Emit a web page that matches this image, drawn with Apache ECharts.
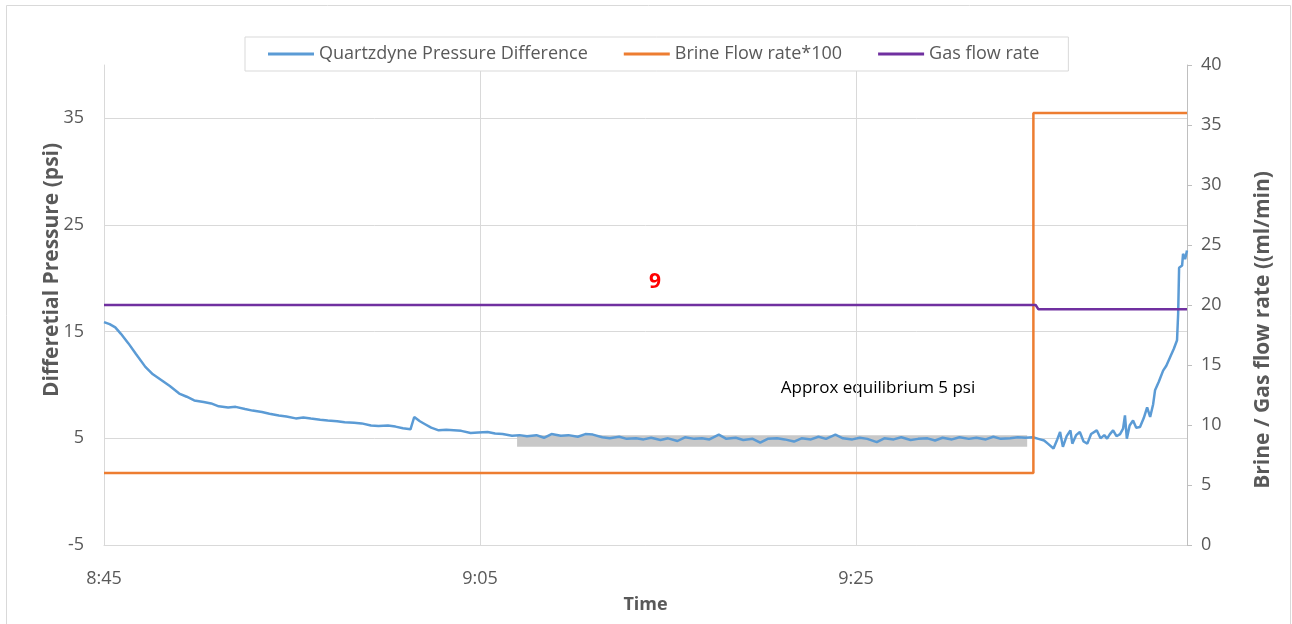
<!DOCTYPE html>
<html><head><meta charset="utf-8">
<script src="https://cdn.jsdelivr.net/npm/echarts@6/dist/echarts.min.js"></script>
<style>html,body{margin:0;padding:0;background:#fff}#c{width:1292px;height:624px}</style>
</head><body><div id="c"></div>
<script>
// minutes after 8:45
const timeTicks = ['8:45', '9:05', '9:25'];
const pressureTime = [0,0.3,0.6,0.9,1.3,1.7,2.2,2.6,3.1,3.5,4.0,4.4,4.8,5.3,5.7,6.1,6.6,7.0,7.5,7.9,8.4,8.8,9.3,9.7,10.2,10.6,11.0,11.5,11.9,12.4,12.8,13.3,13.7,14.2,14.6,15.1,15.5,15.9,16.3,16.5,16.8,17.1,17.4,17.8,18.2,18.6,19.0,19.5,19.9,20.4,20.8,21.2,21.7,22.1,22.5,23.0,23.4,23.8,24.3,24.7,25.2,25.6,26.0,26.5,26.9,27.4,27.8,28.3,28.7,29.1,29.6,30.0,30.5,30.9,31.4,31.8,32.2,32.7,33.1,33.6,34.0,34.5,34.9,35.3,35.8,36.2,36.7,37.1,37.6,38.0,38.4,38.9,39.3,39.8,40.2,40.6,41.1,41.5,42.0,42.4,42.9,43.3,43.8,44.2,44.6,45.1,45.5,46.0,46.4,46.9,47.3,47.7,48.2,48.6,49.0,49.4,49.7,50.0,50.2,50.5,50.7,50.85,51.0,51.2,51.4,51.5,51.7,51.9,52.1,52.3,52.5,52.8,53.0,53.2,53.35,53.5,53.67,53.85,54.04,54.2,54.3,54.4,54.55,54.73,54.9,55.1,55.3,55.48,55.64,55.8,55.9,56.1,56.33,56.5,56.7,56.9,57.07,57.13,57.18,57.34,57.39,57.5,57.6];
const pressureValues = [15.9,15.7,15.4,14.8,13.9,12.9,11.7,11.0,10.4,9.9,9.2,8.9,8.55,8.4,8.27,8.0,7.9,7.95,7.75,7.6,7.46,7.3,7.15,7.05,6.87,6.95,6.85,6.75,6.68,6.6,6.5,6.45,6.4,6.2,6.15,6.2,6.1,5.95,5.85,7.0,6.6,6.3,6.0,5.75,5.8,5.75,5.7,5.5,5.55,5.6,5.45,5.4,5.25,5.3,5.2,5.3,5.05,5.4,5.25,5.3,5.15,5.4,5.35,5.1,5.0,5.15,4.95,5.0,4.9,5.05,4.85,5.0,4.75,5.1,4.95,5.0,4.9,5.35,4.95,5.05,4.85,4.95,4.6,4.95,5.0,4.9,4.7,5.0,4.9,5.15,4.95,5.35,5.0,4.9,5.05,4.95,4.65,5.0,4.9,5.1,4.85,4.95,5.0,4.8,5.05,4.9,5.1,4.95,5.05,4.9,5.15,4.95,5.0,5.1,5.05,5.1,4.95,4.8,4.5,4.05,4.9,5.6,4.2,5.2,5.75,4.5,5.3,5.6,4.7,4.5,5.4,5.75,5.0,5.3,4.97,5.4,5.75,5.2,5.4,5.9,7.15,4.97,6.2,6.68,6.0,6.06,6.9,7.9,7.0,8.2,9.5,10.3,11.35,11.8,12.6,13.4,14.2,16.7,21.0,21.2,22.3,21.8,22.6];
const brineTime = [0, 49.43, 49.43, 57.6];
const brineValues = [6, 6, 36, 36];
const gasTime = [0, 49.55, 49.7, 57.6];
const gasValues = [20, 20, 19.64, 19.64];
const bandTime = [21.97, 49.1];
const bandRange = [4.2, 5.28];
const seriesNames = ['Quartzdyne Pressure Difference', 'Brine Flow rate*100', 'Gas flow rate'];

const FONT = '"Open Sans", "Noto Sans", sans-serif';
const GRID = '#d9d9d9';
const TXT = '#595959';
const pair = (t, v) => t.map((x, i) => [x, v[i]]);

const chart = echarts.init(document.getElementById('c'));
chart.setOption({
  animation: false,
  backgroundColor: '#fff',
  textStyle: { fontFamily: FONT },
  grid: { left: 104, right: 105, top: 65, bottom: 79, containLabel: false },
  legend: {
    left: 245, top: 37, padding: [8, 29, 8, 23], itemGap: 36,
    itemWidth: 46, itemHeight: 3, icon: 'rect',
    backgroundColor: '#fff', borderColor: GRID, borderWidth: 1,
    textStyle: { fontFamily: FONT, fontSize: 18, color: TXT },
    data: seriesNames
  },
  xAxis: {
    type: 'value', min: 0, max: 57.6, interval: 20,
    axisLine: { show: true, onZero: false, lineStyle: { color: GRID, width: 1 } },
    axisTick: { show: false },
    splitLine: { show: true, lineStyle: { color: GRID, width: 1 } },
    axisLabel: { formatter: v => timeTicks[Math.round(v / 20)] || '', showMaxLabel: false,
      margin: 25, fontSize: 18, color: TXT, fontFamily: FONT },
    name: 'Time', nameLocation: 'middle', nameGap: 51,
    nameTextStyle: { fontSize: 18, fontWeight: 'bold', color: TXT, fontFamily: FONT }
  },
  yAxis: [{
    type: 'value', position: 'left', min: -5, max: 40, interval: 10,
    axisLine: { show: true, lineStyle: { color: GRID, width: 1 } },
    axisTick: { show: false },
    splitLine: { show: true, showMaxLine: false, lineStyle: { color: GRID, width: 1 } },
    axisLabel: { showMaxLabel: false, margin: 20, fontSize: 18, color: TXT, fontFamily: FONT },
    name: 'Differetial Pressure (psi)', nameLocation: 'middle', nameGap: 41, nameMoveOverlap: false,
    nameTextStyle: { fontSize: 21, fontWeight: 'bold', color: TXT, fontFamily: FONT, padding: [0, 0, 0, 70] }
  }, {
    type: 'value', position: 'right', min: 0, max: 40, interval: 5,
    axisLine: { show: true, lineStyle: { color: '#bfbfbf', width: 1 } },
    axisTick: { show: true, length: 5, lineStyle: { color: '#bfbfbf' } },
    splitLine: { show: false },
    axisLabel: { margin: 14, fontSize: 18, color: TXT, fontFamily: FONT },
    name: 'Brine / Gas flow rate ((ml/min)', nameLocation: 'middle', nameGap: 66,
    nameTextStyle: { fontSize: 21, fontWeight: 'bold', color: TXT, fontFamily: FONT, padding: [0, 50, 0, 0] }
  }],
  series: [{
    name: seriesNames[0], type: 'line', yAxisIndex: 0, symbol: 'none', showSymbol: false,
    data: pair(pressureTime, pressureValues),
    lineStyle: { color: '#5b9bd5', width: 2.5 }, itemStyle: { color: '#5b9bd5' },
    z: 3,
    markArea: {
      silent: true, z: 1,
      itemStyle: { color: '#c8c8c8', opacity: 1 },
      data: [[{ xAxis: bandTime[0], yAxis: bandRange[1] }, { xAxis: bandTime[1], yAxis: bandRange[0] }]]
    }
  }, {
    name: seriesNames[1], type: 'line', yAxisIndex: 1, symbol: 'none', showSymbol: false,
    data: pair(brineTime, brineValues),
    lineStyle: { color: '#ed7d31', width: 2.5 }, itemStyle: { color: '#ed7d31' }, z: 4
  }, {
    name: seriesNames[2], type: 'line', yAxisIndex: 1, symbol: 'none', showSymbol: false,
    data: pair(gasTime, gasValues),
    lineStyle: { color: '#7030a0', width: 2.5 }, itemStyle: { color: '#7030a0' }, z: 5
  }],
  graphic: [
    { type: 'rect', z: -10, silent: true, shape: { x: 6.5, y: 5.5, width: 1284, height: 640 },
      style: { fill: 'none', stroke: GRID, lineWidth: 1 } },
    { type: 'text', x: 655, y: 282, silent: true,
      style: { text: '9', fill: '#ff0000', font: 'bold 21px ' + FONT, align: 'center', verticalAlign: 'middle' } },
    { type: 'text', x: 878, y: 388, silent: true,
      style: { text: 'Approx equilibrium 5 psi', fill: '#000', font: '17px ' + FONT, align: 'center', verticalAlign: 'middle' } }
  ]
});
</script></body></html>
